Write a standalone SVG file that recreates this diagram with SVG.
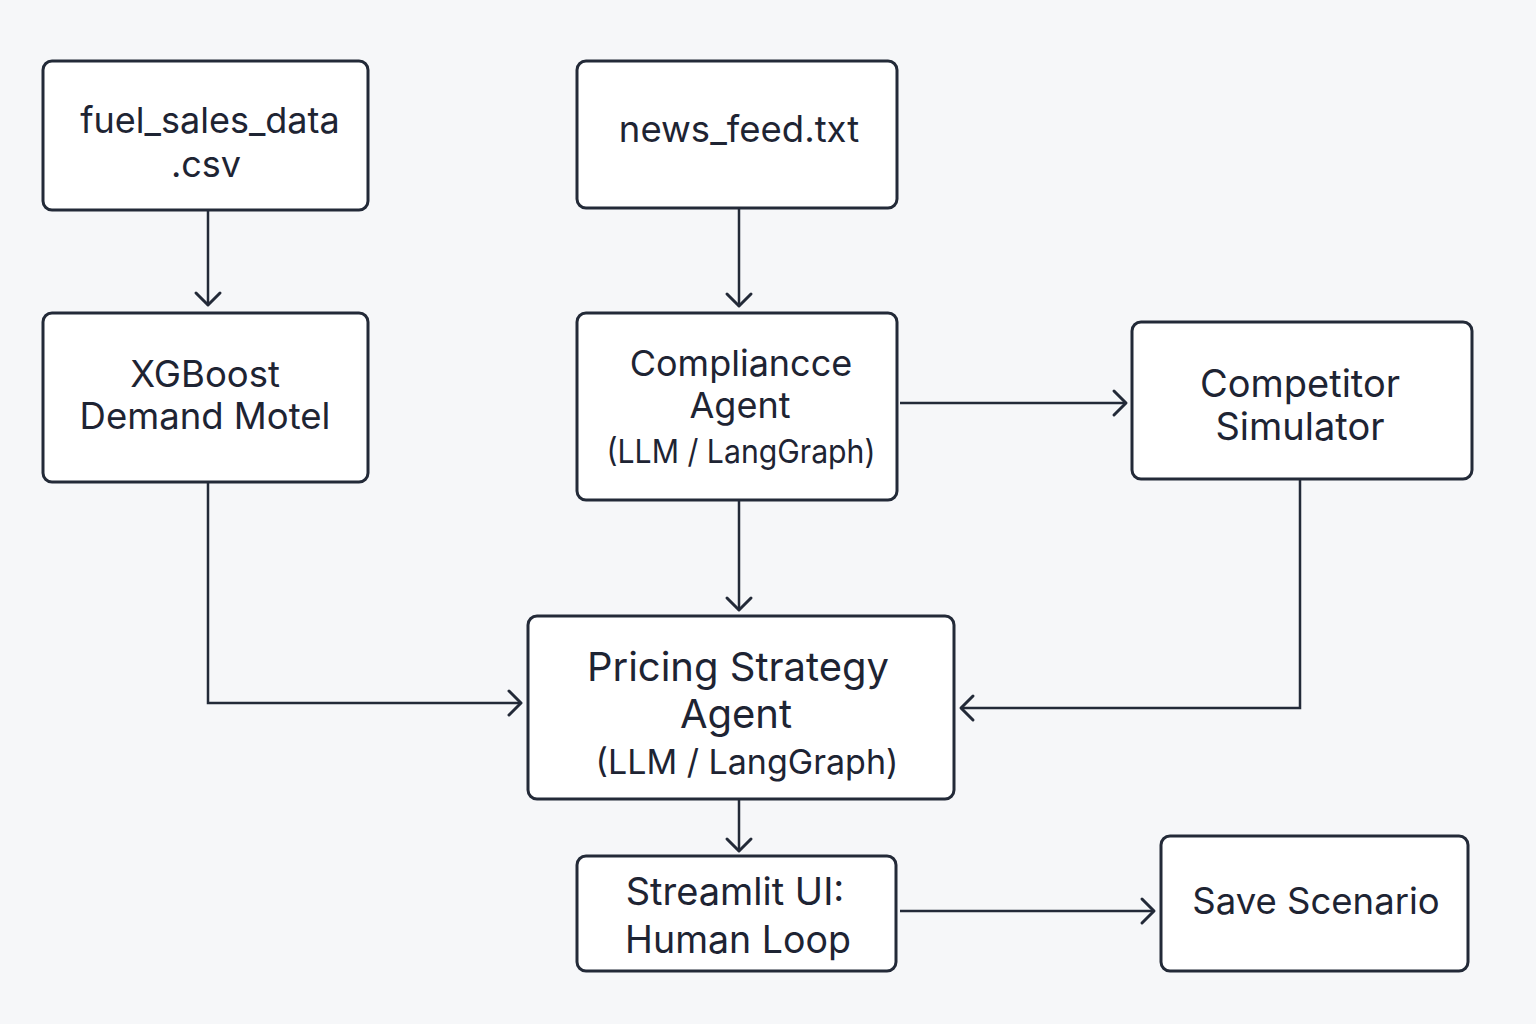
<svg xmlns="http://www.w3.org/2000/svg" width="1536" height="1024" viewBox="0 0 1536 1024">
<style>
.box{fill:#ffffff;stroke:#232a38;stroke-width:3}
.t{font-family:Inter,"Noto Sans","DejaVu Sans",sans-serif;fill:#1e2433;text-anchor:middle}
.c{fill:none;stroke:#232a38;stroke-width:2.5}
</style>
<defs>
<marker id="arr" markerUnits="userSpaceOnUse" markerWidth="30" markerHeight="30" viewBox="-15 -15 30 30" refX="0" refY="0" orient="auto">
<path d="M-12,-12 L0,0 L-12,12" fill="none" stroke="#232a38" stroke-width="3" stroke-linecap="round" stroke-linejoin="round"/>
</marker>
</defs>
<rect width="1536" height="1024" fill="#f6f7f9"/>
<g id="connectors">
<path class="c" d="M208,211 V305" marker-end="url(#arr)"/>
<path class="c" d="M739,209 V306" marker-end="url(#arr)"/>
<path class="c" d="M739,501 V610" marker-end="url(#arr)"/>
<path class="c" d="M208,483 V703 H521" marker-end="url(#arr)"/>
<path class="c" d="M900,403 H1126" marker-end="url(#arr)"/>
<path class="c" d="M1300,480 V708 H961" marker-end="url(#arr)"/>
<path class="c" d="M739,800 V851" marker-end="url(#arr)"/>
<path class="c" d="M900,911 H1154" marker-end="url(#arr)"/>
</g>
<g id="fuel_sales">
<rect class="box" x="43" y="61" width="325" height="149" rx="9"/>
<text class="t" x="210" y="133" font-size="36">fuel_sales_data</text>
<text class="t" x="206" y="177" font-size="36">.csv</text>
</g>
<g id="news_feed">
<rect class="box" x="577" y="61" width="320" height="147" rx="9"/>
<text class="t" x="739" y="142" font-size="36.5">news_feed.txt</text>
</g>
<g id="xgboost">
<rect class="box" x="43" y="313" width="325" height="169" rx="9"/>
<text class="t" x="205" y="387" font-size="36.5">XGBoost</text>
<text class="t" x="205" y="429" font-size="36.5">Demand Motel</text>
</g>
<g id="compliance">
<rect class="box" x="577" y="313" width="320" height="187" rx="9"/>
<text class="t" x="741" y="376" font-size="36">Compliancce</text>
<text class="t" x="740" y="418" font-size="36">Agent</text>
<text class="t" x="741" y="463" font-size="33" textLength="269" lengthAdjust="spacingAndGlyphs">(LLM / LangGraph)</text>
</g>
<g id="competitor">
<rect class="box" x="1132" y="322" width="340" height="157" rx="9"/>
<text class="t" x="1300" y="397" font-size="38">Competitor</text>
<text class="t" x="1300" y="440" font-size="38">Simulator</text>
</g>
<g id="pricing">
<rect class="box" x="528" y="616" width="426" height="183" rx="9"/>
<text class="t" x="738" y="681" font-size="40">Pricing Strategy</text>
<text class="t" x="736" y="728" font-size="40">Agent</text>
<text class="t" x="747" y="774" font-size="34">(LLM / LangGraph)</text>
</g>
<g id="streamlit">
<rect class="box" x="577" y="856" width="319" height="115" rx="9"/>
<text class="t" x="735" y="905" font-size="38">Streamlit UI:</text>
<text class="t" x="738" y="953" font-size="37.5">Human Loop</text>
</g>
<g id="save">
<rect class="box" x="1161" y="836" width="307" height="135" rx="9"/>
<text class="t" x="1316" y="914" font-size="36.5">Save Scenario</text>
</g>
</svg>
